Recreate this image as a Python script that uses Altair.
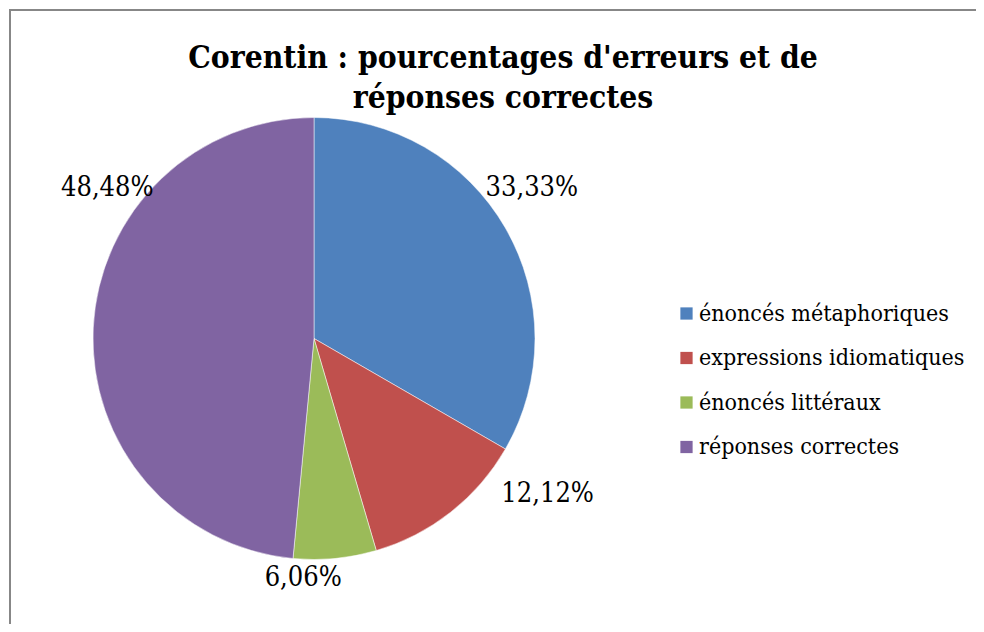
import altair as alt
import pandas as pd

categories = ["énoncés métaphoriques", "expressions idiomatiques", "énoncés littéraux", "réponses correctes"]
values = [33.33, 12.12, 6.06, 48.48]
labels = ["33,33%", "12,12%", "6,06%", "48,48%"]
colors = ["#4F81BD", "#C0504D", "#9BBB59", "#8064A2"]
title_lines = ["Corentin : pourcentages d'erreurs et de", "réponses correctes"]

df = pd.DataFrame({"cat": categories, "value": values, "label": labels, "idx": list(range(len(categories)))})

W, H = 968, 616
CX, CY, R = 306, 330.5, 221
FONT = "DejaVu Serif Condensed, DejaVu Serif"

base = alt.Chart(df)

pie = base.mark_arc(outerRadius=R, stroke="white", strokeWidth=0.5).encode(
    theta=alt.Theta("value:Q", stack=True),
    color=alt.Color(
        "cat:N",
        sort=categories,
        scale=alt.Scale(domain=categories, range=colors),
        legend=alt.Legend(
            title=None,
            orient="none",
            legendX=667,
            legendY=294,
            symbolType="square",
            symbolSize=150,
            symbolStrokeWidth=0,
            labelFont=FONT,
            labelFontSize=23,
            labelColor="black",
            labelOffset=1,
            rowPadding=20.5,
            padding=0,
            labelLimit=400,
        ),
    ),
    order=alt.Order("idx:Q"),
    x=alt.value(CX),
    y=alt.value(CY),
)

nudges = {
    categories[0]: (-3, -23),
    categories[1]: (76, -45),
    categories[2]: (-35, -14),
    categories[3]: (48, -138),
}

label_layers = []
for c in categories:
    dx, dy = nudges[c]
    lay = (
        base.transform_window(cum="sum(value)", sort=[alt.SortField("idx")])
        .transform_calculate(mid="datum.cum - datum.value / 2")
        .transform_filter(alt.datum.cat == c)
        .mark_text(radius=255, font=FONT, fontSize=27, color="black",
                   align="center", baseline="middle", dx=dx, dy=dy)
        .encode(
            theta=alt.Theta("mid:Q", stack=None),
            text="label:N",
            x=alt.value(CX),
            y=alt.value(CY),
        )
    )
    label_layers.append(lay)

blank = alt.Chart(alt.Data(values=[{}]))
title1 = blank.mark_text(font=FONT, fontSize=31.5, fontWeight="bold", color="black",
                         align="center", baseline="alphabetic").encode(
    x=alt.value(495), y=alt.value(60), text=alt.value(title_lines[0]))
title2 = blank.mark_text(font=FONT, fontSize=31.5, fontWeight="bold", color="black",
                         align="center", baseline="alphabetic").encode(
    x=alt.value(495), y=alt.value(100), text=alt.value(title_lines[1]))

border_left = blank.mark_rule(color="#878787", strokeWidth=2).encode(
    x=alt.value(2), y=alt.value(1), y2=alt.value(H))
border_top = blank.mark_rule(color="#878787", strokeWidth=2).encode(
    x=alt.value(2), x2=alt.value(W), y=alt.value(2))

chart = alt.layer(pie, *label_layers, title1, title2, border_left, border_top).properties(
    width=W, height=H, padding=0, background="white",
    autosize=alt.AutoSizeParams(type="none")
).configure_view(stroke="transparent", strokeWidth=0)

chart.save("out.html", embed_options={"renderer": "svg", "actions": False})
